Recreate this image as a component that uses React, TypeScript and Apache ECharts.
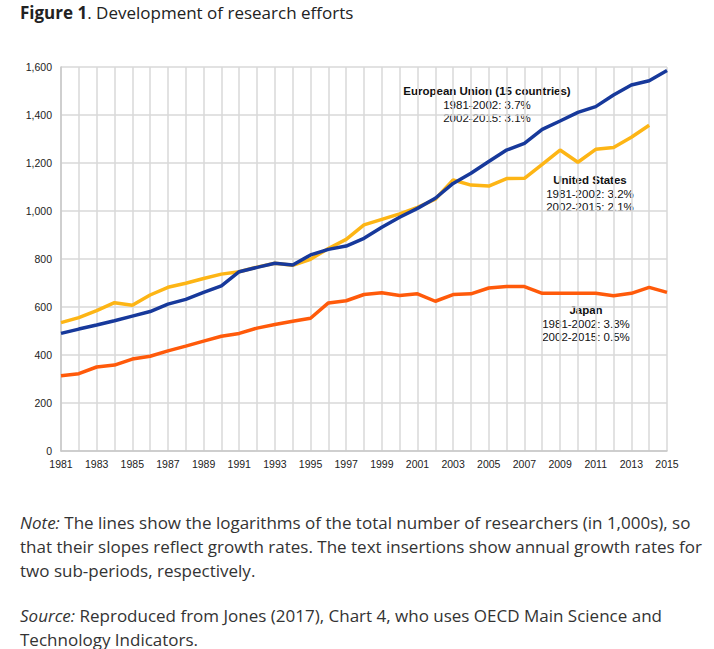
import React, { useEffect, useRef } from "react";
import * as echarts from "echarts";

const years = [
  "1981", "1982", "1983", "1984", "1985", "1986", "1987", "1988", "1989", "1990",
  "1991", "1992", "1993", "1994", "1995", "1996", "1997", "1998", "1999", "2000",
  "2001", "2002", "2003", "2004", "2005", "2006", "2007", "2008", "2009", "2010",
  "2011", "2012", "2013", "2014", "2015",
];

const euValues = [
  490, 508, 525, 543, 562, 581, 612, 632, 661, 688,
  747, 765, 782, 775, 817, 840, 854, 886, 932, 974,
  1011, 1053, 1115, 1157, 1206, 1254, 1282, 1340, 1375, 1411,
  1435, 1483, 1525, 1543, 1585,
];

const usValues: (number | null)[] = [
  535, 556, 585, 618, 607, 650, 682, 699, 719, 737,
  747, 766, 782, 774, 799, 844, 882, 942, 965, 988,
  1015, 1049, 1129, 1108, 1104, 1135, 1136, 1194, 1254, 1203,
  1257, 1265, 1307, 1357, null,
];

const japanValues = [
  314, 322, 350, 358, 383, 395, 417, 437, 458, 478,
  490, 512, 527, 541, 553, 617, 626, 652, 659, 648,
  655, 624, 652, 655, 679, 685, 685, 657, 657, 657,
  657, 647, 657, 682, 661,
];

const yTicks = { min: 0, max: 1600, interval: 200 };

const annotations = [
  { title: "European Union (15 countries)", lines: ["1981-2002: 3.7%", "2002-2015: 3.1%"], x: 487, y: 91 },
  { title: "United States", lines: ["1981-2002: 3.2%", "2002-2015: 2.1%"], x: 590, y: 180 },
  { title: "Japan", lines: ["1981-2002: 3.3%", "2002-2015: 0.5%"], x: 586, y: 310 },
];

const noteLines = [
  "The lines show the logarithms of the total number of researchers (in 1,000s), so",
  "that their slopes reflect growth rates. The text insertions show annual growth rates for",
  "two sub-periods, respectively.",
];
const sourceLines = [
  "Reproduced from Jones (2017), Chart 4, who uses OECD Main Science and",
  "Technology Indicators.",
];

export default function App() {
  const ref = useRef<HTMLDivElement>(null);

  useEffect(() => {
    if (!ref.current) return;
    const chart = echarts.init(ref.current, null, { renderer: "svg" });
    const axisFont = "'Liberation Sans', Arial, sans-serif";
    const textFont = "'Open Sans', sans-serif";

    const graphics: any[] = [];
    graphics.push({
      type: "text",
      left: 20,
      top: 4,
      style: {
        text: "{b|Figure 1}. Development of research efforts",
        font: `17px ${textFont}`,
        fill: "#222",
        rich: {
          b: { fontFamily: "Open Sans", fontSize: 17, fontWeight: "bold", fill: "#222" },
        },
      },
    });

    annotations.forEach((a) => {
      graphics.push({
        type: "text",
        x: a.x,
        y: a.y,
        style: {
          text: a.title,
          font: `bold 11.5px ${axisFont}`,
          fill: "#111",
          align: "center",
          verticalAlign: "middle",
        },
      });
      a.lines.forEach((l, i) => {
        graphics.push({
          type: "text",
          x: a.x,
          y: a.y + 13.5 * (i + 1),
          style: {
            text: l,
            font: `11.5px ${axisFont}`,
            fill: "#111",
            align: "center",
            verticalAlign: "middle",
          },
        });
      });
    });

    const richItalic = { i: { fontFamily: "Open Sans", fontSize: 17, fontStyle: "italic", fill: "#333" } };
    noteLines.forEach((l, i) => {
      graphics.push({
        type: "text",
        x: 20,
        y: 522 + 24 * i,
        style: {
          text: i === 0 ? `{i|Note:} ${l}` : l,
          font: `17px ${textFont}`,
          fill: "#333",
          verticalAlign: "middle",
          rich: richItalic,
        },
      });
    });
    sourceLines.forEach((l, i) => {
      graphics.push({
        type: "text",
        x: 20,
        y: 615 + 24 * i,
        style: {
          text: i === 0 ? `{i|Source:} ${l}` : l,
          font: `17px ${textFont}`,
          fill: "#333",
          verticalAlign: "middle",
          rich: richItalic,
        },
      });
    });

    const lineSeries = (name: string, data: (number | null)[], color: string) => ({
      name,
      type: "line",
      data,
      showSymbol: false,
      symbol: "none",
      lineStyle: { color, width: 3.5 },
      itemStyle: { color },
      z: 3,
    });

    chart.setOption({
      animation: false,
      backgroundColor: "#fff",
      grid: { left: 61, right: 47, top: 67, bottom: 198, containLabel: false },
      xAxis: {
        type: "category",
        data: years,
        boundaryGap: false,
        axisLine: { show: true, lineStyle: { color: "#c8c8c8", width: 1.5 } },
        axisTick: { show: false },
        axisLabel: {
          interval: 1,
          color: "#222",
          fontFamily: axisFont,
          fontSize: 10.5,
          margin: 7,
        },
        splitLine: { show: true, interval: 0, lineStyle: { color: "#d9d9d9", width: 1.5 } },
      },
      yAxis: {
        type: "value",
        min: yTicks.min,
        max: yTicks.max,
        interval: yTicks.interval,
        axisLine: { show: true, lineStyle: { color: "#c8c8c8", width: 1.5 } },
        axisTick: { show: false },
        axisLabel: {
          color: "#222",
          fontFamily: axisFont,
          fontSize: 10.5,
          margin: 9,
          formatter: (v: number) => v.toLocaleString("en-US"),
        },
        splitLine: { show: true, lineStyle: { color: "#d9d9d9", width: 1.5 } },
      },
      series: [
        lineSeries("Japan", japanValues, "#ff5a0a"),
        lineSeries("United States", usValues, "#fdb515"),
        lineSeries("European Union (15 countries)", euValues, "#17399b"),
      ],
      graphic: graphics,
    });

    return () => chart.dispose();
  }, []);

  return (
    <div
      ref={ref}
      style={{ position: "fixed", left: 0, top: 0, width: 714, height: 649 }}
    />
  );
}
